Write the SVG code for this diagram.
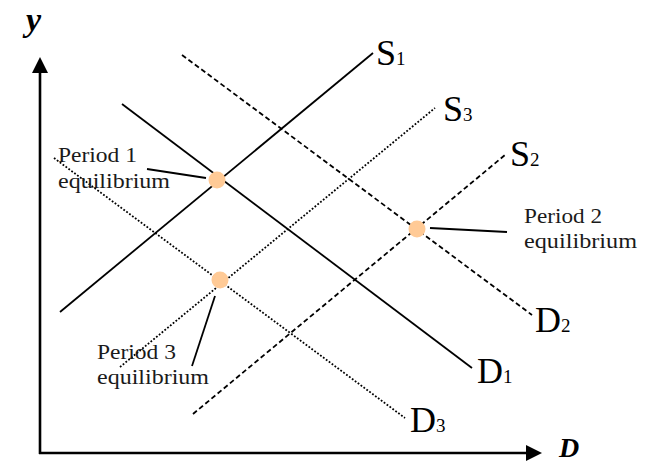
<svg xmlns="http://www.w3.org/2000/svg" width="656" height="464" viewBox="0 0 656 464">
<style>
.solid{stroke:#000;stroke-width:1.8;fill:none}
.dash{stroke:#000;stroke-width:1.8;fill:none;stroke-dasharray:5 3}
.dot{stroke:#000;stroke-width:1.8;fill:none;stroke-dasharray:1.8 1.8}
.lbl{font-family:"Liberation Serif",serif;font-size:36px;fill:#000}
.sub{font-size:19px}
.per{font-family:"Liberation Serif",serif;font-size:22px;fill:#1a1a1a}
.ax{font-family:"Liberation Serif",serif;font-weight:bold;font-style:italic;fill:#000}
.eq{fill:#FFCA96}
</style>
<rect width="656" height="464" fill="#fff"/>
<g id="axes">
<line x1="40" y1="454" x2="40" y2="70" stroke="#000" stroke-width="2.6"/>
<polygon points="40,57 32,73 48,73" fill="#000"/>
<line x1="39" y1="453" x2="528" y2="453" stroke="#000" stroke-width="2.6"/>
<polygon points="542,453 526,445 526,461" fill="#000"/>
<text class="ax" x="26" y="31" font-size="34">y</text>
<text class="ax" x="559" y="457" font-size="28">D</text>
</g>
<g id="connectors">
<line id="S1" class="solid" x1="60" y1="312" x2="373" y2="53"/>
<line id="D1" class="solid" x1="122" y1="104" x2="472" y2="368"/>
<line id="S3" class="dot" x1="120" y1="367" x2="435" y2="108"/>
<line id="D3" class="dot" x1="54" y1="158" x2="405" y2="418"/>
<line id="S2" class="dash" x1="193" y1="414" x2="505" y2="155"/>
<line id="D2" class="dash" x1="182" y1="55" x2="532" y2="315"/>
<line class="solid" x1="147" y1="169" x2="206" y2="178"/>
<line class="solid" x1="430" y1="228" x2="507" y2="232"/>
<line class="solid" x1="215" y1="296" x2="192" y2="366"/>
</g>
<g id="curve-labels">
<text class="lbl" x="376" y="65">S<tspan class="sub">1</tspan></text>
<text class="lbl" x="443" y="121">S<tspan class="sub">3</tspan></text>
<text class="lbl" x="510" y="166">S<tspan class="sub">2</tspan></text>
<text class="lbl" x="535" y="332">D<tspan class="sub">2</tspan></text>
<text class="lbl" x="477" y="383">D<tspan class="sub">1</tspan></text>
<text class="lbl" x="410" y="432">D<tspan class="sub">3</tspan></text>
</g>
<g id="period1">
<circle class="eq" cx="217" cy="180" r="8.5"/>
<text class="per" x="58" y="162" textLength="79" lengthAdjust="spacingAndGlyphs">Period 1</text>
<text class="per" x="58" y="188" textLength="112" lengthAdjust="spacingAndGlyphs">equilibrium</text>
</g>
<g id="period2">
<circle class="eq" cx="417" cy="229" r="8.5"/>
<text class="per" x="524" y="223" textLength="78" lengthAdjust="spacingAndGlyphs">Period 2</text>
<text class="per" x="524" y="248" textLength="113" lengthAdjust="spacingAndGlyphs">equilibrium</text>
</g>
<g id="period3">
<circle class="eq" cx="220" cy="280" r="8.5"/>
<text class="per" x="97" y="359" textLength="79" lengthAdjust="spacingAndGlyphs">Period 3</text>
<text class="per" x="97" y="384" textLength="112" lengthAdjust="spacingAndGlyphs">equilibrium</text>
</g>
</svg>
